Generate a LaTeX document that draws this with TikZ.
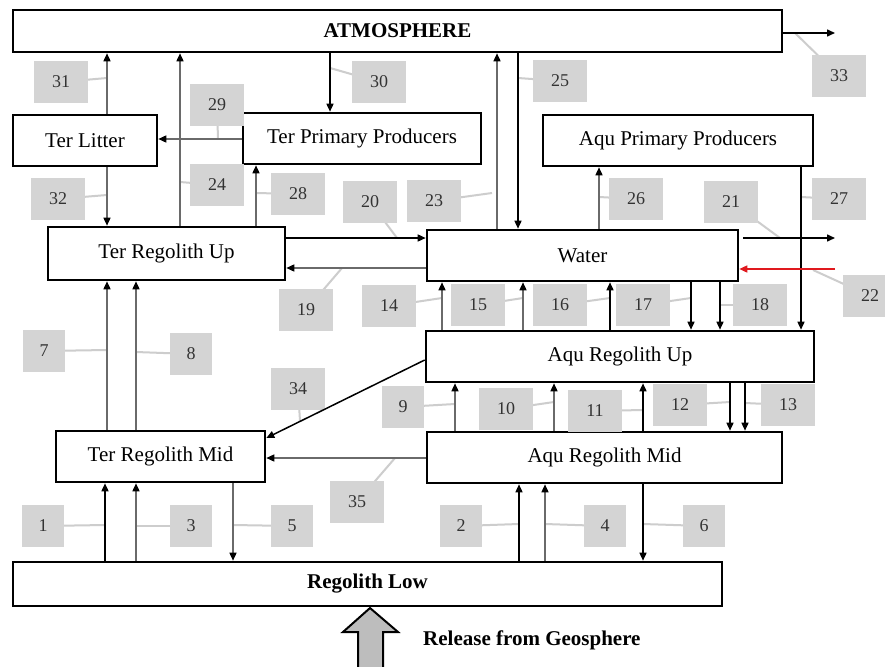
\documentclass[tikz,border=0pt]{standalone}
\usepackage{fontspec}
\setmainfont{Liberation Serif}
\usetikzlibrary{arrows.meta}
\pgfdeclarelayer{bg}
\pgfsetlayers{bg,main}
\definecolor{labfill}{HTML}{D4D4D4}
\definecolor{leadc}{HTML}{CDCDCD}
\definecolor{arrg}{HTML}{6A6A6A}
\definecolor{bigarr}{HTML}{BDBDBD}
\definecolor{redarr}{HTML}{E0191E}
\begin{document}
\begin{tikzpicture}[x=1pt,y=-1pt,
 box/.style={draw, line width=2.6pt, fill=white, inner sep=0pt, font=\fontsize{21}{24}\selectfont},
 bbox/.style={box, font=\bfseries\fontsize{21}{24}\selectfont},
 lab/.style={fill=labfill, text=black!80, inner sep=0pt, minimum height=42pt, minimum width=54pt, font=\fontsize{18}{20}\selectfont},
 labs/.style={lab, minimum width=42pt},
 lead/.style={draw=leadc, line width=2pt},
 ar/.style={line width=1.5pt, -{Triangle[length=8pt,width=7pt,color=black]}},
 ak/.style={ar, draw=black},
 ag/.style={ar, draw=arrg},
 ared/.style={line width=1.5pt, draw=redarr, -{Triangle[length=8pt,width=7pt,color=redarr]}}]
\useasboundingbox (0,0) rectangle (885,666);

% boxes
\node[bbox, minimum width=769pt, minimum height=42pt] (atm) at (397.5,31) {ATMOSPHERE};
\node[box, minimum width=144pt, minimum height=51pt] (litter) at (85,140.5) {Ter Litter};
\node[box, minimum width=238pt, minimum height=51pt] (terpp) at (362,138.5) {Ter Primary Producers};
\node[box, minimum width=270pt, minimum height=51pt] (aqupp) at (678,140.5) {Aqu Primary Producers};
\node[box, minimum width=237pt, minimum height=53pt] (terup) at (166.5,253.5) {Ter Regolith Up};
\node[box, minimum width=311pt, minimum height=51pt] (water) at (582.5,255.5) {Water};
\node[box, minimum width=388pt, minimum height=51pt] (aquup) at (620,356.5) {Aqu Regolith Up};
\node[box, minimum width=209pt, minimum height=51pt] (termid) at (160.5,456.5) {Ter Regolith Mid};
\node[box, minimum width=355pt, minimum height=51pt] (aqumid) at (604.5,457.5) {Aqu Regolith Mid};
\node[bbox, minimum width=709pt, minimum height=44pt] (low) at (367.5,584) {Regolith Low};

% lead points
\coordinate (p31) at (107,78);
\coordinate (p30) at (330,68);
\coordinate (p29) at (218,139);
\coordinate (p24) at (180,182);
\coordinate (p28) at (256,193);
\coordinate (p32) at (107,195);
\coordinate (p25) at (518,78);
\coordinate (p33) at (795,33);
\coordinate (p26) at (599,197);
\coordinate (p21) at (780,238);
\coordinate (p27) at (801,197);
\coordinate (p22) at (813,270);
\coordinate (p20) at (397,238);
\coordinate (p23) at (492,193);
\coordinate (p19) at (342,268);
\coordinate (p14) at (442,298);
\coordinate (p15) at (523,298);
\coordinate (p16) at (610,298);
\coordinate (p17) at (691,298);
\coordinate (p18) at (720,305);
\coordinate (p9) at (455,404);
\coordinate (p10) at (554,402);
\coordinate (p11) at (643,410);
\coordinate (p12) at (730,402);
\coordinate (p13) at (745,403);
\coordinate (p34) at (300,421);
\coordinate (p35) at (395,458);
\coordinate (p7) at (107,350);
\coordinate (p8) at (136,352);
\coordinate (p1) at (105,525);
\coordinate (p3) at (136,526);
\coordinate (p5) at (233,525);
\coordinate (p2) at (519,524);
\coordinate (p4) at (545,524);
\coordinate (p6) at (643,524);

% labels
\node[lab] (l31) at (61,82) {31};
\node[lab] (l30) at (379,82) {30};
\node[lab] (l29) at (217,105) {29};
\node[lab] (l24) at (217,185) {24};
\node[lab] (l28) at (298,194) {28};
\node[lab] (l32) at (58,199) {32};
\node[lab] (l25) at (560,81) {25};
\node[lab] (l33) at (839,76) {33};
\node[lab] (l26) at (636,199) {26};
\node[lab] (l21) at (731,202) {21};
\node[lab] (l27) at (839,199) {27};
\node[lab] (l22) at (870,296) {22};
\node[lab] (l20) at (370,202) {20};
\node[lab] (l23) at (434,201) {23};
\node[lab] (l19) at (306,310) {19};
\node[lab] (l14) at (389,306) {14};
\node[lab] (l15) at (478,305) {15};
\node[lab] (l16) at (560,305) {16};
\node[lab] (l17) at (643,305) {17};
\node[lab] (l18) at (760,305) {18};
\node[labs] (l9) at (403,407) {9};
\node[lab] (l10) at (506,409) {10};
\node[lab] (l11) at (595,411) {11};
\node[lab] (l12) at (680,405) {12};
\node[lab] (l13) at (788,405) {13};
\node[lab] (l34) at (298,389) {34};
\node[lab] (l35) at (357,502) {35};
\node[labs] (l7) at (44,351) {7};
\node[labs] (l8) at (191,354) {8};
\node[labs] (l1) at (43,526) {1};
\node[labs] (l3) at (191,526) {3};
\node[labs] (l5) at (292,526) {5};
\node[labs] (l2) at (461,526) {2};
\node[labs] (l4) at (605,526) {4};
\node[labs] (l6) at (704,526) {6};

% leads behind labels
\begin{pgfonlayer}{bg}
\fill[white] (0,0) rectangle (885,666);
\foreach \n in {31,30,29,24,28,32,25,33,26,21,27,22,20,23,19,14,15,16,17,18,9,10,11,12,13,34,35,7,8,1,3,5,2,4,6}{
  \draw[lead] (l\n.center) -- (p\n);
}
\end{pgfonlayer}

% column / row coordinates
\coordinate (x107) at (107,0);
\coordinate (x180) at (180,0);
\coordinate (x330) at (330,0);
\coordinate (x256) at (256,0);
\coordinate (x497) at (497,0);
\coordinate (x518) at (518,0);
\coordinate (x599) at (599,0);
\coordinate (x801) at (801,0);
\coordinate (x442) at (442,0);
\coordinate (x523) at (523,0);
\coordinate (x610) at (610,0);
\coordinate (x691) at (691,0);
\coordinate (x720) at (720,0);
\coordinate (x455) at (455,0);
\coordinate (x554) at (554,0);
\coordinate (x643) at (643,0);
\coordinate (x730) at (730,0);
\coordinate (x745) at (745,0);
\coordinate (x136) at (136,0);
\coordinate (x105) at (105,0);
\coordinate (x233) at (233,0);
\coordinate (x519) at (519,0);
\coordinate (x545) at (545,0);
\coordinate (y139) at (0,139);
\coordinate (y33) at (0,33);
\coordinate (y238) at (0,238);
\coordinate (y269) at (0,269);
\coordinate (y268) at (0,268);
\coordinate (y360) at (0,360);
\coordinate (y438) at (0,438);
\coordinate (y458) at (0,458);
\coordinate (e33) at (835,33);
\coordinate (s21) at (743,238);
\coordinate (e21) at (835,238);
\coordinate (s22) at (835,269);

% arrows
\draw[ag] (litter.north -| x107) -- (atm.south -| x107);
\draw[ag] (terup.north -| x180) -- (atm.south -| x180);
\draw[ak] (atm.south -| x330) -- (terpp.north -| x330);
\draw[ag] (terpp.west |- y139) -- (litter.east |- y139);
\draw[ag] (terup.north -| x256) -- (terpp.south -| x256);
\draw[ag] (litter.south -| x107) -- (terup.north -| x107);
\draw[ag] (water.north -| x497) -- (atm.south -| x497);
\draw[ak] (atm.south -| x518) -- (water.north -| x518);
\draw[ak] (atm.east |- y33) -- (e33);
\draw[ag] (water.north -| x599) -- (aqupp.south -| x599);
\draw[ak] (aqupp.south -| x801) -- (aquup.north -| x801);
\draw[ak] (s21) -- (e21);
\draw[ared] (s22) -- (water.east |- y269);
\draw[ak] (terup.east |- y238) -- (water.west |- y238);
\draw[ag] (water.west |- y268) -- (terup.east |- y268);
\draw[ag] (aquup.north -| x442) -- (water.south -| x442);
\draw[ag] (aquup.north -| x523) -- (water.south -| x523);
\draw[ak] (aquup.north -| x610) -- (water.south -| x610);
\draw[ak] (water.south -| x691) -- (aquup.north -| x691);
\draw[ak] (water.south -| x720) -- (aquup.north -| x720);
\draw[ag] (aqumid.north -| x455) -- (aquup.south -| x455);
\draw[ag] (aqumid.north -| x554) -- (aquup.south -| x554);
\draw[ak] (aqumid.north -| x643) -- (aquup.south -| x643);
\draw[ak] (aquup.south -| x730) -- (aqumid.north -| x730);
\draw[ak] (aquup.south -| x745) -- (aqumid.north -| x745);
\draw[ag] (termid.north -| x107) -- (terup.south -| x107);
\draw[ag] (termid.north -| x136) -- (terup.south -| x136);
\draw[ak] (aquup.west |- y360) -- (termid.east |- y438);
\draw[ag] (aqumid.west |- y458) -- (termid.east |- y458);
\draw[ak] (low.north -| x105) -- (termid.south -| x105);
\draw[ag] (low.north -| x136) -- (termid.south -| x136);
\draw[ag] (termid.south -| x233) -- (low.north -| x233);
\draw[ak] (low.north -| x519) -- (aqumid.south -| x519);
\draw[ag] (low.north -| x545) -- (aqumid.south -| x545);
\draw[ak] (aqumid.south -| x643) -- (low.north -| x643);

% release arrow
\draw[line width=2pt, fill=bigarr] (370,608) -- (398,632) -- (383,632) -- (383,672) -- (358,672) -- (358,632) -- (343,632) -- cycle;
\node[anchor=west, inner sep=0pt, font=\bfseries\fontsize{21}{24}\selectfont] (rel) at (423,640) {Release from Geosphere};
\end{tikzpicture}
\end{document}
